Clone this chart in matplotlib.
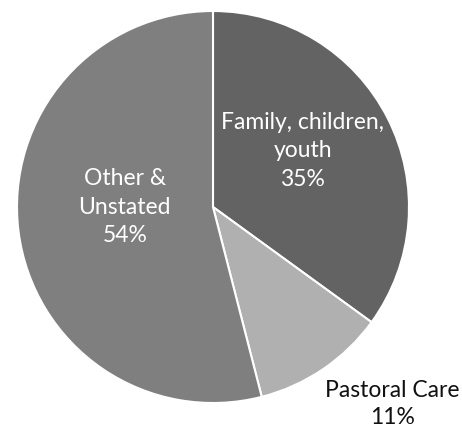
import numpy as np
import matplotlib
matplotlib.use("Agg")
import matplotlib.pyplot as plt

plt.rcParams["font.family"] = ["Lato", "DejaVu Sans"]

# Share of activity by category
categories = ["Family, children,\nyouth", "Pastoral Care", "Other &\nUnstated"]
shares = [35, 11, 54]
colors = ["#636363", "#b0b0b0", "#7f7f7f"]
text_colors = ["white", "#111111", "white"]

# label offsets (radius, angle nudge in degrees, line spacing) per slice
label_radius = [0.54, 1.36, 0.45]
label_nudge = [5, 8, -7]
label_spacing = [1.45, 1.35, 1.45]

fig = plt.figure(figsize=(4.62, 4.28), dpi=100)
ax = fig.add_axes([17 / 462, 25 / 428, 392 / 462, 392 / 428])

wedges, _ = ax.pie(
    shares,
    colors=colors,
    startangle=90,
    counterclock=False,
    radius=1,
    wedgeprops=dict(edgecolor="white", linewidth=1.5),
)
ax.set_xlim(-1, 1)
ax.set_ylim(-1, 1)
ax.axis("off")

for w, cat, val, tc, r, nudge, ls in zip(wedges, categories, shares, text_colors,
                                          label_radius, label_nudge, label_spacing):
    mid = np.deg2rad((w.theta1 + w.theta2) / 2 + nudge)
    ax.text(r * np.cos(mid), r * np.sin(mid), f"{cat}\n{val}%",
            ha="center", va="center", color=tc, fontsize=16.5,
            linespacing=ls, clip_on=False)

fig.savefig("out.png", dpi=100)
